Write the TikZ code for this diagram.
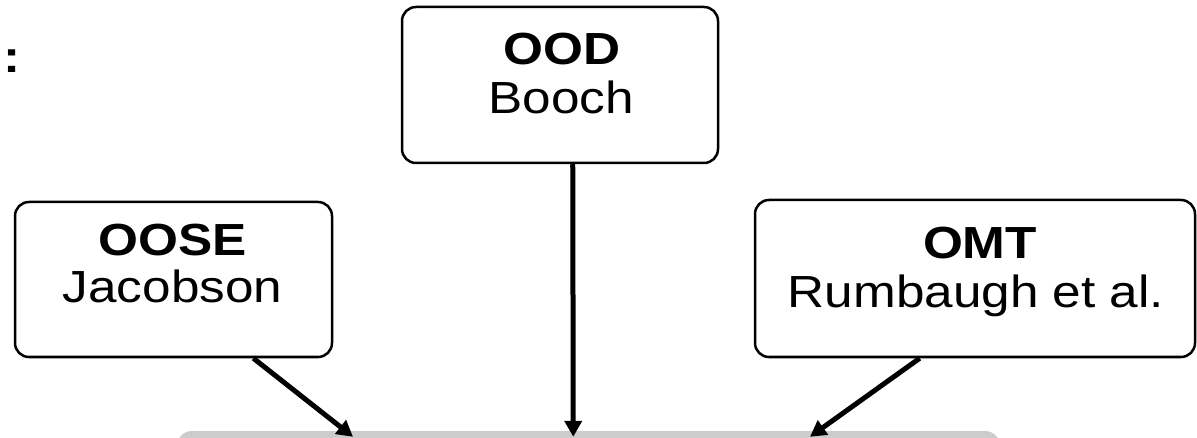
\documentclass[tikz,border=0pt]{standalone}
\usepackage{fontspec}
\setmainfont{Liberation Sans}[FakeStretch=1.14]
\usetikzlibrary{arrows.meta,calc}
\begin{document}
\begin{tikzpicture}[x=1pt,y=-1pt,
  methodbox/.style={draw=black,line width=2.5pt,rounded corners=14pt,fill=white,inner sep=0pt},
  txt/.style={anchor=base,inner sep=0pt,font=\fontsize{45}{50}\selectfont},
  graybox/.style={fill=black!20,rounded corners=15pt,inner sep=0pt,minimum width=823pt,minimum height=90pt},
  arr/.style={line width=5pt,-{Triangle[length=16pt,width=17pt]}}]
\clip (0,0) rectangle (1197,438);
\fill[white] (0,0) rectangle (1197,438);
% boxes
\node[methodbox,minimum width=316pt,minimum height=156pt] (ood) at (560,85) {};
\node[methodbox,minimum width=317pt,minimum height=155pt] (oose) at (173.5,279.5) {};
\node[methodbox,minimum width=440pt,minimum height=157pt] (omt) at (975,278.5) {};
\node[graybox] (uml) at (588.5,476) {};
% texts
\node[txt] (colon) at (12,73) {\bfseries :};
\node[txt] (oodt) at (562,65) {\bfseries OOD};
\node[txt] (oodn) at (561,114) {Booch};
\node[txt] (ooset) at (172.5,256) {\bfseries OOSE};
\node[txt] (oosen) at (172.5,303) {Jacobson};
\node[txt] (omtt) at (980,259) {\bfseries OMT};
\node[txt] (omtn) at (976,308) {Rumbaugh et al.};
% arrow ends
\coordinate (e1) at ($(uml.north west)!0.214!(uml.north east)+(0,6)$);
\coordinate (e2) at ($(uml.north west)!0.4815!(uml.north east)+(0,6)$);
\coordinate (e3) at ($(uml.north west)!0.769!(uml.north east)+(0,6)$);
\draw[arr] ($(oose.south west)!0.75!(oose.south east)$) -- (e1);
\draw[arr] ($(ood.south west)!0.54!(ood.south east)$) -- (e2);
\draw[arr] ($(omt.south west)!0.375!(omt.south east)$) -- (e3);
\end{tikzpicture}
\end{document}
